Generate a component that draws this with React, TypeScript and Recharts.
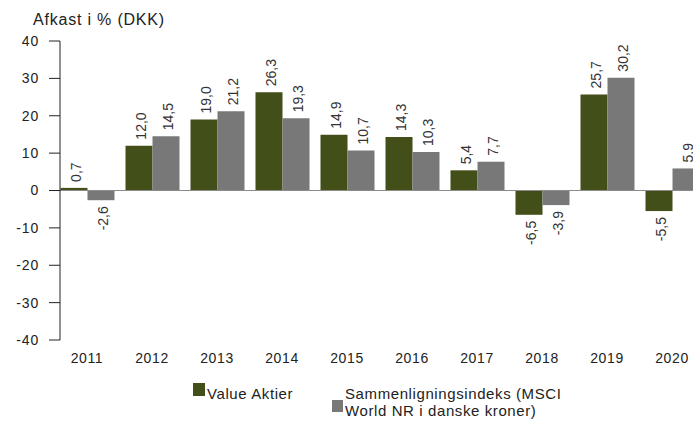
import React from "react";
import { BarChart, Bar, XAxis, YAxis, ReferenceLine, LabelList } from "recharts";

const years = ["2011", "2012", "2013", "2014", "2015", "2016", "2017", "2018", "2019", "2020"];
const valueAktier = [0.7, 12.0, 19.0, 26.3, 14.9, 14.3, 5.4, -6.5, 25.7, -5.5];
const sammenligning = [-2.6, 14.5, 21.2, 19.3, 10.7, 10.3, 7.7, -3.9, 30.2, 5.9];
const yTicks = [-40, -30, -20, -10, 0, 10, 20, 30, 40];

const GREEN = "#434f18";
const GREY = "#787878";
const FONT = "'Liberation Sans', Arial, sans-serif";

const data = years.map((year, i) => ({
    year,
    value: valueAktier[i],
    index: sammenligning[i],
}));

const fmt = (v: number) => v.toFixed(1).replace(".", ",");

// rotated value label: above positive bars, below negative ones
const renderLabel = (props: any) => {
    const { x, y, width, height, value } = props;
    const v = Number(value);
    const cx = Number(x) + Number(width) / 2 + 2;
    const top = Math.min(Number(y), Number(y) + Number(height));
    const bottom = Math.max(Number(y), Number(y) + Number(height));
    const neg = v < 0;
    const ty = neg ? bottom + 6 : top - 6;
    return (
        <text
            x={cx}
            y={ty}
            transform={`rotate(-90 ${cx} ${ty})`}
            textAnchor={neg ? "end" : "start"}
            dominantBaseline="central"
            fontSize={14}
            fontFamily={FONT}
            fill="#333"
        >
            {fmt(v)}
        </text>
    );
};

export default function App() {
    return (
        <div
            style={{
                position: "absolute",
                top: 0,
                left: 0,
                width: 693,
                height: 421,
                overflow: "hidden",
                background: "#fff",
                fontFamily: FONT,
                color: "#222",
            }}
        >
            <div
                style={{
                    position: "absolute",
                    left: 33,
                    top: 12,
                    fontSize: 16,
                    lineHeight: 1,
                    letterSpacing: 0.8,
                    whiteSpace: "nowrap",
                }}
            >
                Afkast i % (DKK)
            </div>

            <BarChart
                width={693}
                height={421}
                data={data}
                margin={{ top: 41, right: 0, bottom: 51, left: 0 }}
                barCategoryGap={6}
                barGap={0}
            >
                <XAxis
                    dataKey="year"
                    axisLine={false}
                    tickLine={false}
                    height={30}
                    tickMargin={7}
                    padding={{ left: -5.5, right: -11.5 }}
                    tick={{ fontSize: 14, fill: "#222", fontFamily: FONT, letterSpacing: 0.6 }}
                    interval={0}
                />
                <YAxis
                    type="number"
                    domain={[-40, 40]}
                    ticks={yTicks}
                    width={60}
                    tickSize={11}
                    tickMargin={10}
                    axisLine={{ stroke: "#222" }}
                    tickLine={{ stroke: "#222" }}
                    tick={{ fontSize: 14, fill: "#222", fontFamily: FONT, letterSpacing: 0.8 }}
                    interval={0}
                />
                <ReferenceLine y={0} stroke="#8c8c8c" />
                <Bar dataKey="value" fill={GREEN} isAnimationActive={false}>
                    <LabelList dataKey="value" content={renderLabel} />
                </Bar>
                <Bar dataKey="index" fill={GREY} isAnimationActive={false}>
                    <LabelList dataKey="index" content={renderLabel} />
                </Bar>
            </BarChart>

            {/* legend */}
            <div style={{ position: "absolute", left: 193, top: 383, width: 12, height: 13, background: GREEN }} />
            <div
                style={{
                    position: "absolute",
                    left: 207,
                    top: 385,
                    fontSize: 15,
                    lineHeight: "17px",
                    letterSpacing: 0.6,
                    whiteSpace: "nowrap",
                }}
            >
                Value Aktier
            </div>
            <div style={{ position: "absolute", left: 332, top: 400, width: 11, height: 12, background: GREY }} />
            <div
                style={{
                    position: "absolute",
                    left: 345,
                    top: 385,
                    fontSize: 15,
                    lineHeight: "17px",
                    letterSpacing: 0.6,
                    whiteSpace: "nowrap",
                }}
            >
                Sammenligningsindeks (MSCI
                <br />
                World NR i danske kroner)
            </div>
        </div>
    );
}
